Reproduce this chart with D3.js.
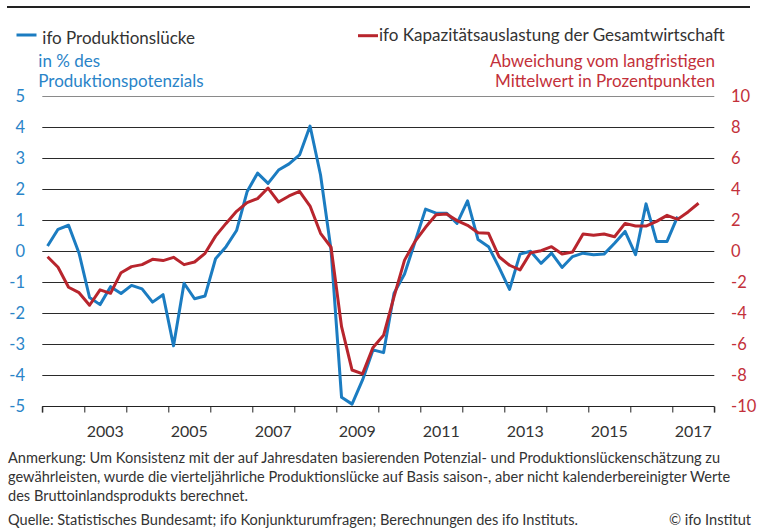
<!DOCTYPE html>
<html><head><meta charset="utf-8">
<script src="https://cdn.jsdelivr.net/npm/d3@7"></script>
<style>
html,body{margin:0;padding:0;background:#fff;}
svg{display:block;font-family:"Source Sans Pro","Lato",sans-serif;}
</style></head>
<body>
<svg id="chart" width="757" height="530"></svg>
<script>
// ---- data ----
const startYear = 2002;
const yearTicks = d3.range(2002, 2019);
const yearLabels = [2003, 2005, 2007, 2009, 2011, 2013, 2015, 2017];
const leftTicks = [5, 4, 3, 2, 1, 0, -1, -2, -3, -4, -5];
const rightTicks = [10, 8, 6, 4, 2, 0, -2, -4, -6, -8, -10];
// ifo Produktionslücke, quarterly from 2002Q1 (% of potential)
const outputGap = [0.17, 0.71, 0.84, -0.06, -1.49, -1.72, -1.14, -1.36, -1.10, -1.21,
  -1.64, -1.40, -3.05, -1.03, -1.53, -1.44, -0.24, 0.15, 0.67, 1.92,
  2.52, 2.19, 2.62, 2.82, 3.11, 4.04, 2.46, 0.04, -4.71, -4.93,
  -4.15, -3.18, -3.27, -1.35, -0.73, 0.31, 1.36, 1.23, 1.23, 0.90,
  1.63, 0.38, 0.15, -0.52, -1.23, -0.09, 0.00, -0.39, -0.06, -0.52,
  -0.17, -0.06, -0.11, -0.09, 0.26, 0.64, -0.11, 1.53, 0.32, 0.32, 1.12];
// ifo Kapazitätsauslastung, deviation from long-term mean (pp), quarterly from 2002Q1
const capacity = [-0.35, -1.03, -2.32, -2.67, -3.48, -2.49, -2.71, -1.38, -0.99, -0.86,
  -0.52, -0.60, -0.39, -0.86, -0.69, -0.13, 0.98, 1.80, 2.58, 3.14,
  3.40, 4.08, 3.18, 3.57, 3.87, 2.92, 1.16, 0.26, -4.86, -7.66,
  -7.91, -6.20, -5.42, -2.92, -0.57, 0.64, 1.55, 2.36, 2.41, 1.98,
  1.68, 1.20, 1.16, -0.35, -0.90, -1.20, -0.09, 0.04, 0.30, -0.17,
  -0.05, 1.12, 1.03, 1.12, 0.94, 1.80, 1.63, 1.63, 1.93, 2.32,
  2.06, 2.54, 3.10];
const legendBlue = "ifo Produktionslücke";
const legendBlueUnit = ["in % des", "Produktionspotenzials"];
const legendRed = "ifo Kapazitätsauslastung der Gesamtwirtschaft";
const legendRedUnit = ["Abweichung vom langfristigen", "Mittelwert in Prozentpunkten"];
const notes = [
  "Anmerkung: Um Konsistenz mit der auf Jahresdaten basierenden Potenzial- und Produktionslückenschätzung zu",
  "gewährleisten, wurde die vierteljährliche Produktionslücke auf Basis saison-, aber nicht kalenderbereinigter Werte",
  "des Bruttoinlandsprodukts berechnet."
];
const source = "Quelle: Statistisches Bundesamt; ifo Konjunkturumfragen; Berechnungen des ifo Instituts.";
const copyright = "© ifo Institut";

// ---- styles ----
const BLUE = "#1b7cc1", RED = "#b8252d";
const BLUE_TXT = "#2a84c8", RED_TXT = "#c3303a", DARK = "#333333";

const svg = d3.select("#chart");
const x = d3.scaleLinear().domain([2002, 2018]).range([42.3, 714.3]);
const yL = d3.scaleLinear().domain([-5, 5]).range([406.3, 96.3]);
const yR = d3.scaleLinear().domain([-10, 10]).range([406.3, 96.3]);
const qx = i => x(startYear + (i + 0.5) / 4);

function fit(sel, target, maxSize) {
  const n = sel.node();
  const w = n.getComputedTextLength();
  const fs = parseFloat(sel.attr("font-size"));
  let nfs = fs * target / w;
  if (maxSize) nfs = Math.min(nfs, maxSize);
  sel.attr("font-size", nfs.toFixed(2));
  return nfs;
}

// top rule
svg.append("line").attr("x1", 7).attr("x2", 750).attr("y1", 7).attr("y2", 7)
  .attr("stroke", "#222").attr("stroke-width", 2);

// gridlines
svg.append("g").selectAll("line").data(leftTicks.filter(d => d > -5)).join("line")
  .attr("x1", x(2002)).attr("x2", x(2018))
  .attr("y1", d => Math.round(yL(d)) + 0.5).attr("y2", d => Math.round(yL(d)) + 0.5)
  .attr("stroke", d => d === 5 ? "#8a8a8a" : "#2a2a2a").attr("stroke-width", 1);

// x axis
const xAxis = d3.axisBottom(x).tickValues(yearTicks).tickSize(6).tickFormat("");
const gx = svg.append("g").attr("transform", `translate(0,${Math.round(yL(-5)) + 0.5})`).call(xAxis);
gx.select(".domain").attr("stroke", "#222").attr("d", `M${x(2002)},6V0H${x(2018)}V6`);
gx.selectAll(".tick line").attr("stroke", "#222");

svg.append("g").selectAll("text").data(yearLabels).join("text")
  .attr("x", d => x(d + 0.5)).attr("y", 437)
  .attr("text-anchor", "middle").attr("font-size", 16).attr("fill", DARK)
  .text(d => d);

// left axis labels
svg.append("g").selectAll("text").data(leftTicks).join("text")
  .attr("x", 25).attr("y", d => yL(d) + 5.5)
  .attr("text-anchor", "end").attr("font-size", 16.5).attr("fill", BLUE_TXT)
  .text(d => d);
// right axis labels
svg.append("g").selectAll("text").data(rightTicks).join("text")
  .attr("x", 731).attr("y", d => yR(d) + 5.5)
  .attr("text-anchor", "start").attr("font-size", 16.5).attr("fill", RED_TXT)
  .text(d => d);

// lines
const lineL = d3.line().x((d, i) => qx(i)).y(d => yL(d));
const lineR = d3.line().x((d, i) => qx(i)).y(d => yR(d));
svg.append("path").datum(outputGap).attr("d", lineL)
  .attr("fill", "none").attr("stroke", BLUE).attr("stroke-width", 3).attr("stroke-linejoin", "round");
svg.append("path").datum(capacity).attr("d", lineR)
  .attr("fill", "none").attr("stroke", RED).attr("stroke-width", 3).attr("stroke-linejoin", "round");

// legend
svg.append("line").attr("x1", 16.5).attr("x2", 36.5).attr("y1", 35).attr("y2", 35)
  .attr("stroke", BLUE).attr("stroke-width", 3);
const lb = svg.append("text").attr("x", 42.3).attr("y", 44).attr("font-size", 16).attr("fill", DARK).text(legendBlue);
const legFs = fit(lb, 152.7, 18);
const lbu = svg.append("g").selectAll("text").data(legendBlueUnit).join("text")
  .attr("x", 38.3).attr("y", (d, i) => 66.7 + i * 20).attr("font-size", legFs).attr("fill", BLUE_TXT).text(d => d);

svg.append("line").attr("x1", 358).attr("x2", 378).attr("y1", 35.7).attr("y2", 35.7)
  .attr("stroke", RED).attr("stroke-width", 3);
const lr = svg.append("text").attr("x", 379).attr("y", 41).attr("font-size", 16).attr("fill", DARK).text(legendRed);
fit(lr, 346, 18);
svg.append("g").selectAll("text").data(legendRedUnit).join("text")
  .attr("x", 715).attr("y", (d, i) => 66.7 + i * 20).attr("text-anchor", "end")
  .attr("font-size", legFs).attr("fill", RED_TXT).text(d => d);

// footnotes
const n1 = svg.append("text").attr("x", 8).attr("y", 463).attr("font-size", 14).attr("fill", DARK).text(notes[0]);
const noteFs = fit(n1, 712, 16);
svg.append("g").selectAll("text").data(notes.slice(1)).join("text")
  .attr("x", 8).attr("y", (d, i) => 482 + i * 19).attr("font-size", noteFs).attr("fill", DARK).text(d => d);
svg.append("text").attr("x", 8).attr("y", 525).attr("font-size", noteFs).attr("fill", DARK).text(source);
svg.append("text").attr("x", 751).attr("y", 525).attr("text-anchor", "end").attr("font-size", noteFs).attr("fill", DARK).text(copyright);
</script>
</body></html>
